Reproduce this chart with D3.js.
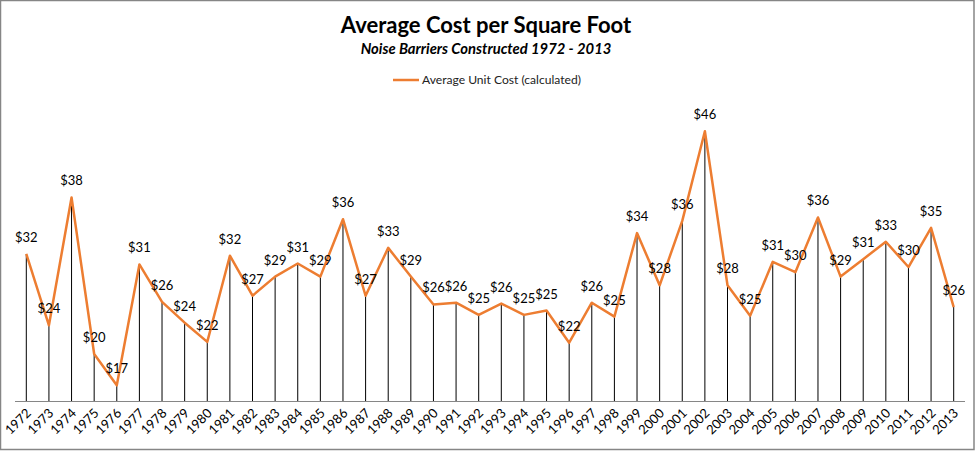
<!DOCTYPE html>
<html>
<head>
<meta charset="utf-8">
<script src="https://cdn.jsdelivr.net/npm/d3@7"></script>
<style>
  html, body { margin: 0; padding: 0; background: #fff; }
  svg { display: block; font-family: Lato, "Open Sans", sans-serif; }
</style>
</head>
<body>
<svg id="chart" width="975" height="451"></svg>
<script>
const years = ["1972","1973","1974","1975","1976","1977","1978","1979","1980","1981",
  "1982","1983","1984","1985","1986","1987","1988","1989","1990","1991",
  "1992","1993","1994","1995","1996","1997","1998","1999","2000","2001",
  "2002","2003","2004","2005","2006","2007","2008","2009","2010","2011",
  "2012","2013"];
const avgCost = [31.9, 23.7, 38.4, 20.4, 16.8, 30.7, 26.4, 24.0, 21.8, 31.7,
  27.1, 29.3, 30.8, 29.3, 35.9, 27.1, 32.6, 29.3, 26.1, 26.3,
  24.9, 26.2, 24.9, 25.4, 21.7, 26.3, 24.7, 34.3, 28.3, 35.7,
  46.0, 28.3, 24.8, 31.0, 29.8, 36.1, 29.3, 31.3, 33.3, 30.4,
  34.9, 25.8];
const title = "Average Cost per Square Foot";
const subtitle = "Noise Barriers Constructed 1972 - 2013";
const seriesName = "Average Unit Cost (calculated)";
const yDomain = [15, 50];

const data = years.map((y, i) => ({ year: y, value: avgCost[i] }));
const svg = d3.select("#chart");
const W = 975, H = 451;

// outer border
svg.append("rect").attr("x", 0.5).attr("y", 0.5).attr("width", W - 1.5).attr("height", H - 2)
  .attr("fill", "#fff").attr("stroke", "#868686").attr("stroke-width", 1.5);

const x = d3.scalePoint().domain(years).range([15, 965]).padding(0.5);
const y = d3.scaleLinear().domain(yDomain).range([401, 96.5]);

// title
svg.append("text").attr("x", 486).attr("y", 33).attr("text-anchor", "middle")
  .attr("font-size", 22).attr("font-weight", "bold").attr("fill", "#000").text(title);
svg.append("text").attr("x", 486).attr("y", 54).attr("text-anchor", "middle")
  .attr("font-size", 14.8).attr("font-weight", "bold").attr("font-style", "italic").attr("fill", "#000").text(subtitle);

// legend
const lg = svg.append("g").attr("transform", "translate(393,80)");
lg.append("line").attr("x1", 0).attr("x2", 26).attr("y1", 0).attr("y2", 0)
  .attr("stroke", "#ED7D31").attr("stroke-width", 2.5);
lg.append("text").attr("x", 29).attr("y", 4).attr("font-size", 12.1).attr("fill", "#222").text(seriesName);

// drop lines
svg.append("g").selectAll("line").data(data).join("line")
  .attr("x1", d => x(d.year)).attr("x2", d => x(d.year))
  .attr("y1", d => y(d.value)).attr("y2", y(yDomain[0]))
  .attr("stroke", "#000").attr("stroke-width", 1);

// x axis
const xAxis = svg.append("g").attr("transform", `translate(0,${y(yDomain[0])})`)
  .call(d3.axisBottom(x).tickSize(0).tickPadding(0));
xAxis.select(".domain").attr("d", "M15,0.5H965").attr("stroke", "#868686").attr("stroke-width", 1);
xAxis.selectAll(".tick text")
  .attr("font-family", "Lato, 'Open Sans', sans-serif")
  .attr("font-size", 13).attr("fill", "#000")
  .attr("text-anchor", "end").attr("dy", null).attr("y", 0)
  .attr("transform", "translate(5,13) rotate(-45)");

// line
svg.append("path").datum(data)
  .attr("fill", "none").attr("stroke", "#ED7D31").attr("stroke-width", 2.5)
  .attr("stroke-linejoin", "round")
  .attr("d", d3.line().x(d => x(d.year)).y(d => y(d.value)));

// labels
svg.append("g").selectAll("text").data(data).join("text")
  .attr("x", d => x(d.year)).attr("y", d => y(d.value) - 12)
  .attr("text-anchor", "middle").attr("font-size", 13).attr("fill", "#000")
  .text(d => "$" + Math.round(d.value));
</script>
</body>
</html>
